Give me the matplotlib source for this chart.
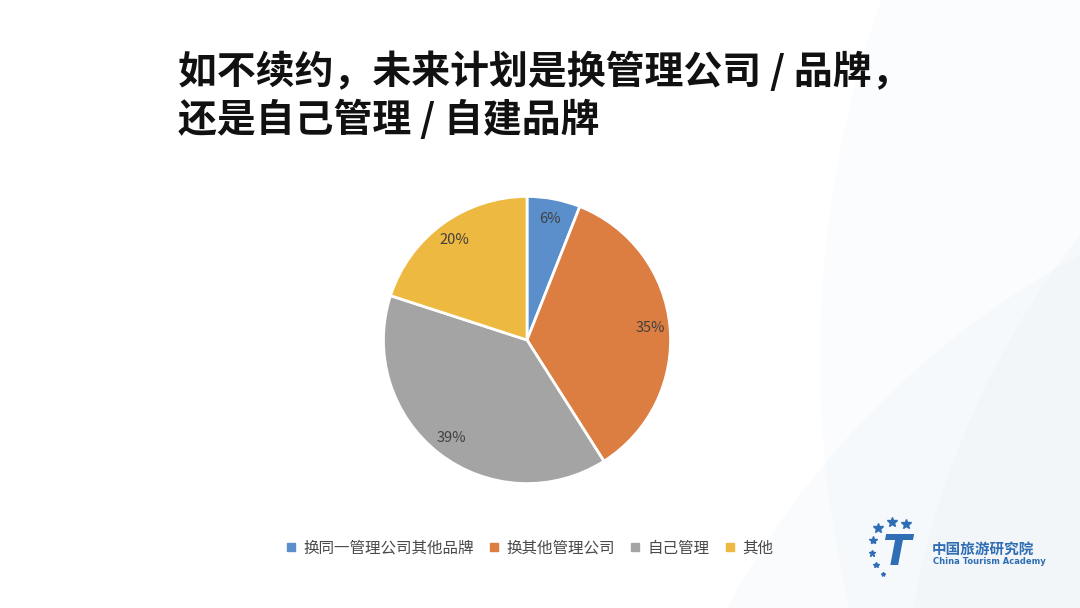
import matplotlib.pyplot as plt
from matplotlib.lines import Line2D
from matplotlib.patches import Circle

plt.rcParams['font.family'] = ['Noto Sans CJK SC', 'DejaVu Sans']

title_lines = ["如不续约，未来计划是换管理公司 / 品牌，", "还是自己管理 / 自建品牌"]
labels = ["换同一管理公司其他品牌", "换其他管理公司", "自己管理", "其他"]
shares = [6, 35, 39, 20]
colors = ["#5b8fcc", "#dc7d42", "#a4a4a4", "#edb940"]

W, H = 1080, 608
fig = plt.figure(figsize=(W / 100, H / 100), dpi=100)
fig.patch.set_facecolor("white")

# light blue swoosh in the background
bg = fig.add_axes([0, 0, 1, 1], zorder=0)
bg.set_xlim(0, W)
bg.set_ylim(0, H)
bg.axis("off")
for cx, cy, r, a in [(1900, 250, 1080, 0.08), (1750, -150, 850, 0.10), (1500, -420, 880, 0.10)]:
    bg.add_patch(Circle((cx, cy), r, color="#cfe0f0", alpha=a, lw=0))

# title
fig.text(178 / W, 1 - 72 / H, title_lines[0], fontsize=28, fontweight="bold",
         color="#111111", va="center", ha="left")
fig.text(178 / W, 1 - 120 / H, title_lines[1], fontsize=28, fontweight="bold",
         color="#111111", va="center", ha="left")

# pie
cx, cy, r = 527, 340, 145
ax = fig.add_axes([(cx - r) / W, (H - cy - r) / H, 2 * r / W, 2 * r / H], zorder=2)
wedges, texts, autotexts = ax.pie(
    shares, colors=colors, startangle=90, counterclock=False,
    autopct="%d%%", pctdistance=0.86,
    wedgeprops=dict(edgecolor="white", linewidth=2),
    textprops=dict(fontsize=10.5, color="#404040"))
ax.set_xlim(-1.01, 1.01)
ax.set_ylim(-1.01, 1.01)
ax.set_aspect("equal")

# legend
handles = [Line2D([], [], marker="s", linestyle="", markersize=5.5,
                  markerfacecolor=c, markeredgecolor=c) for c in colors]
fig.legend(handles, labels, loc="center", bbox_to_anchor=(529 / W, 1 - 548 / H),
           ncol=4, frameon=False, fontsize=11.2, labelcolor="#4a4a4a",
           handlelength=0.8, handletextpad=0.4, columnspacing=0.9)

# logo
logo_blue = "#2f6db5"
fig.text(897 / W, 1 - 553 / H, "T", fontsize=30, fontweight="bold", style="italic",
         color=logo_blue, ha="center", va="center", family="DejaVu Sans")
star_pts = [(878, 528), (892, 522), (906, 524), (873, 540), (872, 553), (876, 565), (883, 574)]
star_sz = [7, 7, 7, 6, 5, 4, 3]
for (sx, sy), s in zip(star_pts, star_sz):
    bg.plot(sx, H - sy, marker="*", markersize=s, color=logo_blue, zorder=3)
fig.text(932 / W, 1 - 549 / H, "中国旅游研究院", fontsize=10.5, fontweight="bold",
         color=logo_blue, ha="left", va="center")
fig.text(933 / W, 1 - 561 / H, "China Tourism Academy", fontsize=6, fontweight="bold",
         color=logo_blue, ha="left", va="center", family="DejaVu Sans")

fig.savefig("out.png", dpi=100)
